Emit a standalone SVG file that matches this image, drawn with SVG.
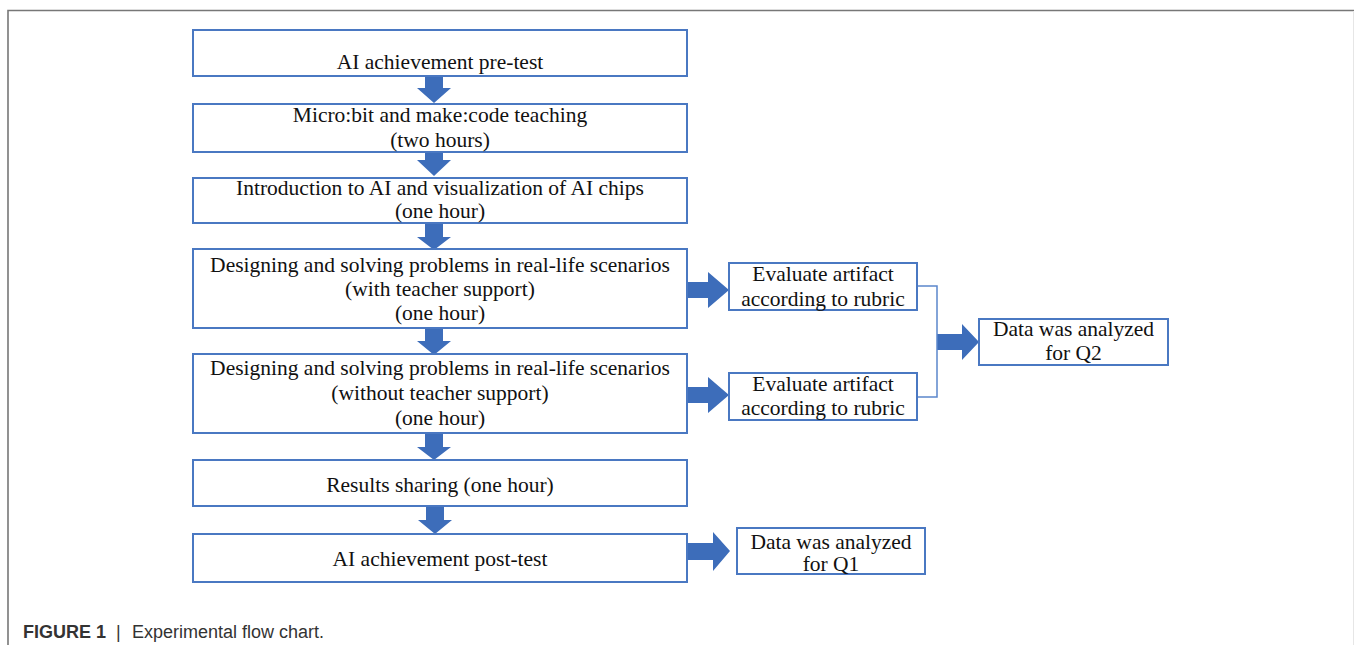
<svg xmlns="http://www.w3.org/2000/svg" width="1354" height="645" viewBox="0 0 1354 645">
<style>
.box{fill:#fff;stroke:#4a78c2;stroke-width:2}
.t{font-family:"Liberation Serif","Times New Roman",serif;font-size:21.5px;fill:#111;text-anchor:middle}
.arr{fill:#3d6dba}
.ln{fill:none;stroke:#5b86cc;stroke-width:1.5}
.frame{fill:none;stroke:#777;stroke-width:1.6}
.cap{font-family:"Liberation Sans",Arial,sans-serif;font-size:18px;fill:#333}
</style>
<rect width="1354" height="645" fill="#fff"/>
<path class="frame" d="M8,645 V10.5 H1354"/>
<path d="M1353.5,11 V645" stroke="#e6e6e6" stroke-width="1"/>
<g id="connectors">
<path class="arr" d="M425,76 H443 V88 H451 L434,103 L417,88 H425 Z"/>
<path class="arr" d="M425,152 H443 V160 H451 L434,176 L417,160 H425 Z"/>
<path class="arr" d="M425,223 H443 V237 H451 L434,250 L417,237 H425 Z"/>
<path class="arr" d="M425,328 H443 V341 H451 L434,355 L417,341 H425 Z"/>
<path class="arr" d="M425,433 H443 V447 H451 L434,460 L417,447 H425 Z"/>
<path class="arr" d="M426,506 H444 V520 H452 L435,534 L418,520 H426 Z"/>
<path class="arr" d="M687,282 H708 V272 L729,290 L708,308 V298 H687 Z"/>
<path class="arr" d="M687,387 H708 V377 L729,395 L708,413 V403 H687 Z"/>
<path class="arr" d="M687,543 H713 V532 L730,551 L713,571 V560 H687 Z"/>
<path class="arr" d="M937,334 H962 V324 L979,342 L962,360 V350 H937 Z"/>
<path class="ln" d="M917,286 H937 V397 H917"/>
</g>
<g id="n1"><rect class="box" x="193" y="30" width="494" height="46"/><text class="t" x="440" y="69">AI achievement pre-test</text></g>
<g id="n2"><rect class="box" x="193" y="104" width="494" height="48"/><text class="t" x="440" y="122">Micro:bit and make:code teaching</text><text class="t" x="440" y="147">(two hours)</text></g>
<g id="n3"><rect class="box" x="193" y="178" width="494" height="45"/><text class="t" x="440" y="195">Introduction to AI and visualization of AI chips</text><text class="t" x="440" y="218">(one hour)</text></g>
<g id="n4"><rect class="box" x="193" y="249" width="494" height="79"/><text class="t" x="440" y="272">Designing and solving problems in real-life scenarios</text><text class="t" x="440" y="296">(with teacher support)</text><text class="t" x="440" y="320">(one hour)</text></g>
<g id="n5"><rect class="box" x="193" y="354" width="494" height="79"/><text class="t" x="440" y="375">Designing and solving problems in real-life scenarios</text><text class="t" x="440" y="400">(without teacher support)</text><text class="t" x="440" y="425">(one hour)</text></g>
<g id="n6"><rect class="box" x="193" y="460" width="494" height="46"/><text class="t" x="440" y="492">Results sharing (one hour)</text></g>
<g id="n7"><rect class="box" x="193" y="534" width="494" height="48"/><text class="t" x="440" y="566">AI achievement post-test</text></g>
<g id="e1"><rect class="box" x="729" y="263" width="188" height="47"/><text class="t" x="823" y="281">Evaluate artifact</text><text class="t" x="823" y="306">according to rubric</text></g>
<g id="e2"><rect class="box" x="729" y="373" width="188" height="47"/><text class="t" x="823" y="391">Evaluate artifact</text><text class="t" x="823" y="415">according to rubric</text></g>
<g id="q2"><rect class="box" x="979" y="319" width="189" height="46"/><text class="t" x="1073.5" y="336">Data was analyzed</text><text class="t" x="1073.5" y="360">for Q2</text></g>
<g id="q1"><rect class="box" x="737" y="528" width="188" height="46"/><text class="t" x="831" y="549">Data was analyzed</text><text class="t" x="831" y="571">for Q1</text></g>
<g id="caption">
<text class="cap" x="23" y="638" font-weight="bold">FIGURE 1</text>
<text class="cap" x="116" y="638">|</text>
<text class="cap" x="132" y="638">Experimental flow chart.</text>
</g>
</svg>
